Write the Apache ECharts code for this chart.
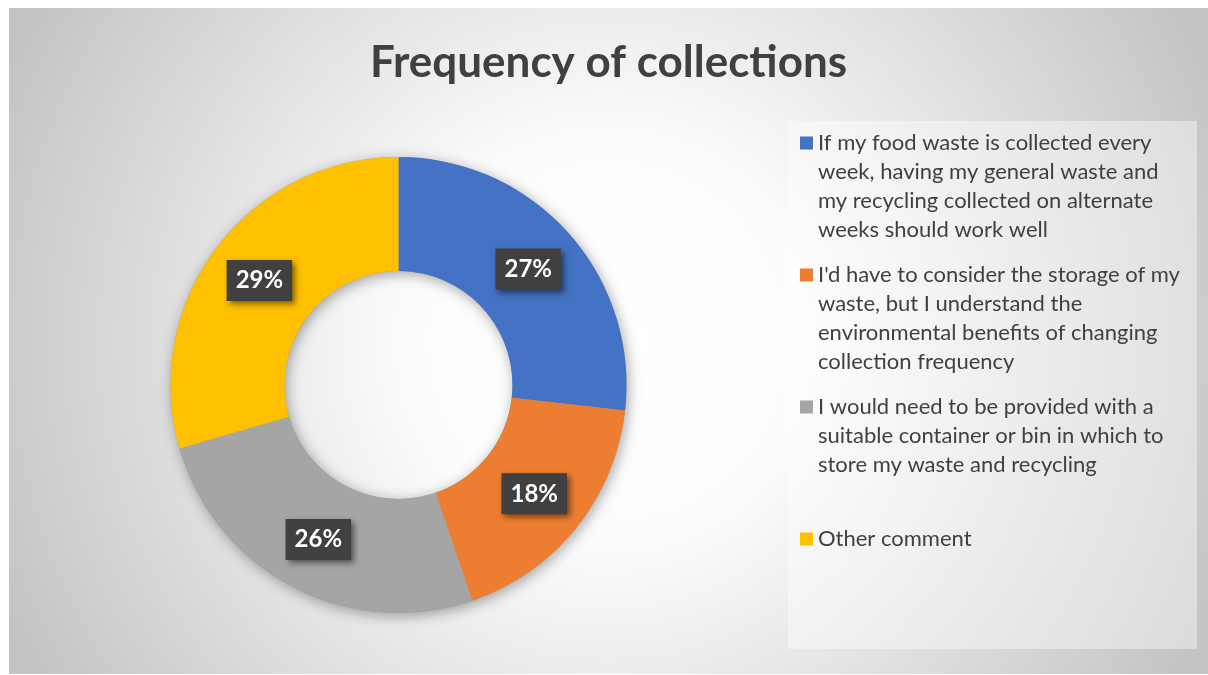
<!DOCTYPE html>
<html><head><meta charset="utf-8">
<script src="https://cdn.jsdelivr.net/npm/echarts@6/dist/echarts.min.js"></script>
<style>html,body{margin:0;padding:0;background:#fff;}
#c{position:absolute;left:9px;top:8px;width:1199px;height:666px;}</style>
</head><body><div id="c"></div>
<script>
const categories = [
  "If my food waste is collected every week, having my general waste and my recycling collected on alternate weeks should work well",
  "I'd have to consider the storage of my waste, but I understand the environmental benefits of changing collection frequency",
  "I would need to be provided with a suitable container or bin in which to store my waste and recycling",
  "Other comment"
];
// percentages (labels show them rounded)
const values = [26.7, 17.9, 25.7, 29.4];
const legendLines = [
  ["If my food waste is collected every", "week, having my general waste and", "my recycling collected on alternate", "weeks should work well"],
  ["I'd have to consider the storage of my", "waste, but I understand the", "environmental benefits of changing", "collection frequency"],
  ["I would need to be provided with a", "suitable container or bin in which to", "store my waste and recycling"],
  ["Other comment"]
];
const titleText = "Frequency of collections";

const colors = ['#4472C4', '#ED7D31', '#A5A5A5', '#FFC000'];
const FONT = 'Lato';
const LH = 29;
const chart = echarts.init(document.getElementById('c'));

const legends = categories.map((name, k) => {
  const n = legendLines[k].length;
  return {
    orient: 'vertical', left: 791, top: 135 + k * 132 - (2 * n - 1) * LH / 2,
    padding: 0, itemWidth: 13, itemHeight: 13, icon: 'rect',
    data: [name], selectedMode: false,
    formatter: nm => {
      const lines = legendLines[categories.indexOf(nm)];
      return '\n'.repeat(lines.length - 1) + lines.join('\n');
    },
    textStyle: {
      fontFamily: FONT, fontSize: 22, color: '#404040', lineHeight: LH
    }
  };
});

const option = {
  animation: false,
  backgroundColor: {
    type: 'radial', x: 0.5, y: 0.5, r: 1,
    colorStops: [
      { offset: 0, color: '#ffffff' },
      { offset: 0.3, color: '#fcfcfc' },
      { offset: 1, color: '#c3c3c3' }
    ]
  },
  title: {
    text: titleText, left: 'center', top: 28,
    textStyle: { fontFamily: FONT, fontWeight: 'bold', fontSize: 44, color: '#404040' }
  },
  graphic: [{
    type: 'rect', left: 779, top: 113, silent: true, z: -1,
    shape: { width: 409, height: 528 },
    style: { fill: 'rgba(255,255,255,0.4)' }
  }],
  legend: legends,
  series: [
    {
      type: 'pie', radius: [114, 228], center: [389.5, 377], silent: true, z: 1,
      label: { show: false }, labelLine: { show: false },
      itemStyle: { color: '#999', shadowBlur: 14, shadowColor: 'rgba(0,0,0,0.35)', shadowOffsetX: 2, shadowOffsetY: 3 },
      data: [{ value: 1, name: '_ring' }]
    },
    {
      type: 'pie', radius: [114, 228], center: [389.5, 377], startAngle: 90, clockwise: true, z: 2,
      avoidLabelOverlap: false,
      emphasis: { disabled: true },
      itemStyle: { borderWidth: 0 },
      label: {
        show: true, position: 'inside',
        formatter: p => Math.round(p.value) + '%',
        color: '#fff', fontFamily: FONT, fontWeight: 'bold', fontSize: 24,
        backgroundColor: '#404040', padding: [9, 9, 8, 9],
        shadowBlur: 6, shadowOffsetX: 3, shadowOffsetY: 3, shadowColor: 'rgba(0,0,0,0.5)'
      },
      labelLine: { show: false },
      data: categories.map((n, i) => ({ name: n, value: values[i], itemStyle: { color: colors[i] } }))
    }
  ]
};
chart.setOption(option);
</script></body></html>
